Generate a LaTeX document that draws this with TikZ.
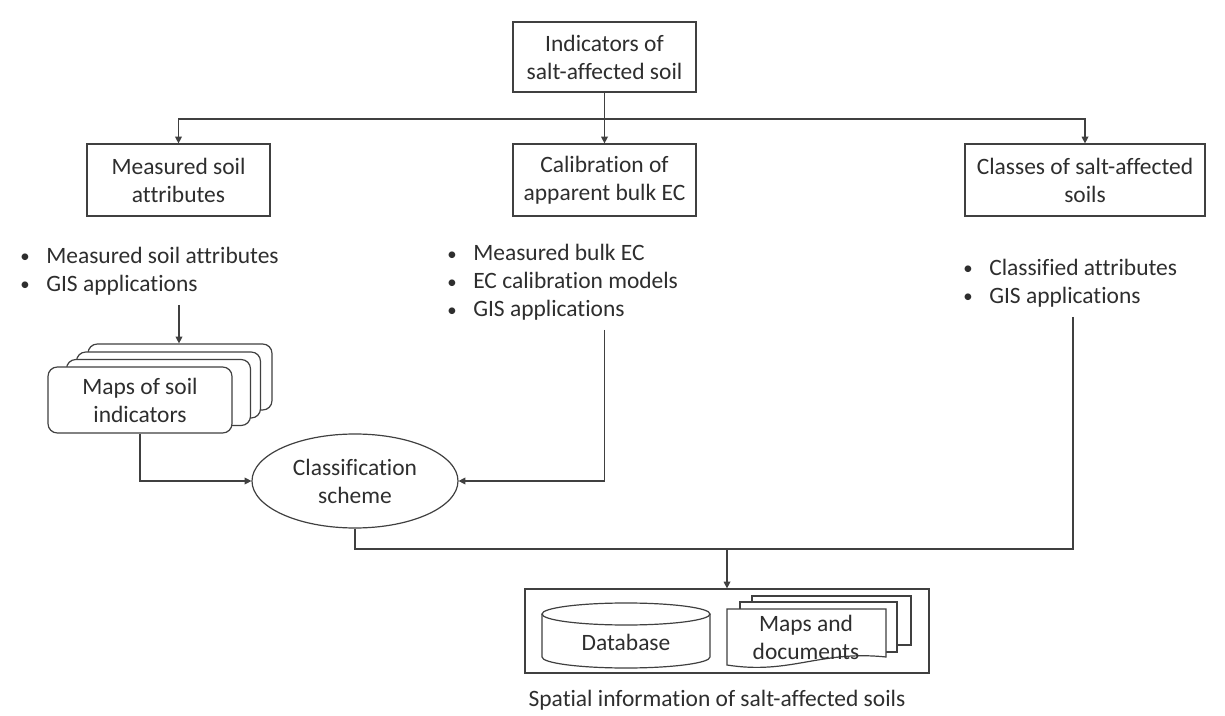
\documentclass[tikz,border=0pt]{standalone}
\usepackage{fontspec}
\setmainfont{Carlito}[Ligatures=NoCommon]
\usetikzlibrary{arrows.meta,shapes.geometric}
\newcommand\blt{\makebox[19.5pt][l]{\raisebox{0.5pt}{\scalebox{0.8}{•}}}}
\begin{document}
\begin{tikzpicture}[x=0.75pt,y=-0.75pt,
  every node/.style={font=\fontsize{17.6}{21}\selectfont, text=black!82, align=center},
  ln/.style={draw=black!75, line width=0.9pt},
  arr/.style={ln, -{Triangle[length=5pt,width=5pt]}},
  box/.style={draw=black!75, line width=0.9pt, rectangle, inner sep=0pt, minimum height=54pt},
  card/.style={draw=black!75, line width=0.9pt, fill=white, rounded corners=7pt, minimum width=138pt, minimum height=49.5pt, inner sep=0pt},
  blist/.style={align=left, inner sep=0pt, anchor=west},
  doc/.style={draw=black!75, line width=0.9pt, fill=white}
]
\fill[white] (0,0) rectangle (1225,716);
\useasboundingbox (0,0) rectangle (1225,716);

% boxes
\node[box, minimum width=137.25pt, minimum height=52.5pt] (top) at (604.5,57) {Indicators of\\salt-affected soil};
\node[box, minimum width=137.25pt] (msa) at (178.5,180) {Measured soil\\attributes};
\node[box, minimum width=137.25pt] (cal) at (604.5,180) {Calibration of\\apparent bulk EC};
\node[box, minimum width=180pt] (cls) at (1085,180) {Classes of salt-affected\\soils};

% bullet lists
\node[blist] (l1) at (20,271) {\blt Measured soil attributes\\\blt GIS applications};
\node[blist] (l2) at (447,282.5) {\blt Measured bulk EC\\\blt EC calibration models\\\blt GIS applications};
\node[blist] (l3) at (963,283) {\blt Classified attributes\\\blt GIS applications};

% stacked maps cards
\node[card] (c3) at (180,377) {};
\node[card] (c2) at (168.5,385) {};
\node[card] (c1) at (158.5,392.5) {};
\node[card] (maps) at (140,400) {Maps of soil\\indicators};

% classification scheme
\node[ellipse, draw=black!75, line width=0.9pt, minimum width=154.5pt, minimum height=70.5pt, inner sep=0pt] (sch) at (355,481) {Classification\\scheme};

% output box
\node[box, minimum width=303pt, minimum height=63pt] (out) at (727,631) {};
\node (cap) at (717,700) {Spatial information of salt-affected soils};

% database cylinder
\draw[ln, fill=white] (542,614) -- (542,657) arc[start angle=180, end angle=360, x radius=63pt, y radius=8.25pt] -- (710,614);
\draw[ln, fill=white] (626,614) ellipse [x radius=63pt, y radius=8.25pt];
\node (db) at (626,642) {Database};

% documents
\draw[doc] (752,596) rectangle (911,645);
\draw[doc] (740,602) rectangle (897,652);
\draw[doc] (727,609) -- (886,609) -- (886,657) .. controls (820,650) and (790,675) .. (727,665) -- cycle;
\node (docs) at (806,637) {Maps and\\documents};

% connectors
\coordinate (hub) at (604.5,119);
\draw[arr] (top) -- (cal);
\draw[arr] (hub) -| (msa.north);
\draw[arr] (hub) -| (cls.north);
\coordinate (o1) at (179,305);
\draw[arr] (o1) -- (o1 |- c3.north);
\draw[arr] (maps.south) |- (sch.west);
\coordinate (o2) at (604.5,330);
\draw[arr] (o2) |- (sch.east);
\coordinate (o3) at (1073,317);
\coordinate (j) at (727,549);
\draw[ln] (sch.south) |- (j);
\draw[ln] (o3) |- (j);
\draw[arr] (j) -- (out.north);
\end{tikzpicture}
\end{document}
